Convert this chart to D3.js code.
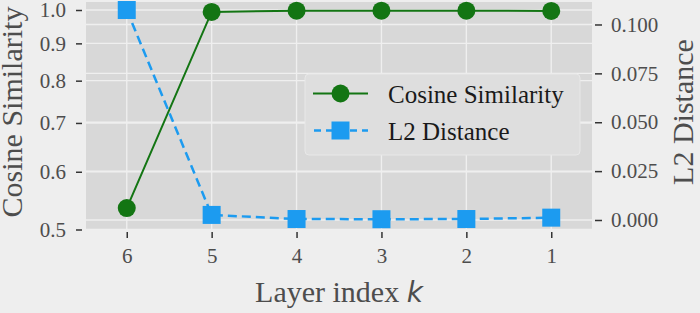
<!DOCTYPE html>
<html><head><meta charset="utf-8">
<script src="https://cdn.jsdelivr.net/npm/d3@7"></script>
<style>
html,body{margin:0;padding:0;background:#eeeeee;}
svg{display:block;}
</style></head>
<body>
<svg id="chart" width="700" height="313"></svg>
<script>
const layers = [6, 5, 4, 3, 2, 1];
const cosineSimilarity = [0.535, 0.994, 0.998, 0.998, 0.998, 0.997];
const l2Distance = [0.1074, 0.0026, 0.0005, 0.0004, 0.0005, 0.0012];
const leftTicks = [0.5, 0.6, 0.7, 0.8, 0.9, 1.0];
const rightTicks = [0, 0.025, 0.05, 0.075, 0.1];
const seriesNames = ["Cosine Similarity", "L2 Distance"];

const svg = d3.select("#chart");
const L = 86, R = 592, T = 2, B = 229.5;
const serif = "'Liberation Serif','Times New Roman',serif";
const green = "#137513", blue = "#1c9bf0";

const x = d3.scaleLinear().domain([6.48, 0.52]).range([L, R]);
const yL = d3.scaleLog().domain([0.5, 1.0256]).range([B, T]);
const yR = d3.scaleLinear().domain([-0.00486, 0.1115]).range([B, T]);

svg.append("rect").attr("x", L).attr("y", T).attr("width", R - L).attr("height", B - T).attr("fill", "#d8d8d8");

const grid = svg.append("g").attr("stroke", "#efefef").attr("stroke-width", 1.4);
grid.selectAll(".gl").data(leftTicks).join("line")
  .attr("x1", L).attr("x2", R).attr("y1", d => yL(d)).attr("y2", d => yL(d));
grid.selectAll(".gr").data(rightTicks).join("line")
  .attr("x1", L).attr("x2", R).attr("y1", d => yR(d)).attr("y2", d => yR(d));
grid.selectAll(".gx").data(layers).join("line")
  .attr("x1", d => x(d)).attr("x2", d => x(d)).attr("y1", T).attr("y2", B);

function styleAxis(g) {
  g.select(".domain").remove();
  g.selectAll(".tick line").attr("stroke", "#333").attr("stroke-width", 1.5);
  g.selectAll(".tick text").attr("fill", "#4d4d4d").style("font-family", serif).style("font-size", "21px");
}

svg.append("g").attr("transform", `translate(82,0)`)
  .call(d3.axisLeft(yL).tickValues(leftTicks).tickFormat(d3.format(".1f")).tickSize(6).tickPadding(10))
  .call(styleAxis);
svg.append("g").attr("transform", `translate(595,0)`)
  .call(d3.axisRight(yR).tickValues(rightTicks).tickFormat(d3.format(".3f")).tickSize(7).tickPadding(9))
  .call(styleAxis);
svg.append("g").attr("transform", `translate(0,232)`)
  .call(d3.axisBottom(x).tickValues(layers).tickFormat(d3.format("d")).tickSize(6).tickPadding(10))
  .call(styleAxis);

// series
const cosLine = d3.line().x((d, i) => x(layers[i])).y(d => yL(d));
svg.append("path").datum(cosineSimilarity).attr("d", cosLine)
  .attr("fill", "none").attr("stroke", green).attr("stroke-width", 2);
svg.selectAll(".cm").data(cosineSimilarity).join("circle")
  .attr("cx", (d, i) => x(layers[i])).attr("cy", d => yL(d)).attr("r", 9).attr("fill", green);

const l2Line = d3.line().x((d, i) => x(layers[i])).y(d => yR(d));
svg.append("path").datum(l2Distance).attr("d", l2Line)
  .attr("fill", "none").attr("stroke", blue).attr("stroke-width", 2.5).attr("stroke-dasharray", "9,5");
svg.selectAll(".lm").data(l2Distance).join("rect")
  .attr("x", (d, i) => x(layers[i]) - 9).attr("y", d => yR(d) - 9)
  .attr("width", 18).attr("height", 18).attr("fill", blue);

// axis labels
svg.append("text").attr("transform", "translate(22,112) rotate(-90)").attr("text-anchor", "middle")
  .style("font-family", serif).style("font-size", "30px").attr("fill", "#4d4d4d").text("Cosine Similarity");
svg.append("text").attr("transform", "translate(693,112) rotate(-90)").attr("text-anchor", "middle")
  .style("font-family", serif).style("font-size", "30px").attr("fill", "#4d4d4d").text("L2 Distance");
const xl = svg.append("text").attr("x", 339).attr("y", 302).attr("text-anchor", "middle")
  .style("font-family", serif).style("font-size", "30px").attr("fill", "#4d4d4d");
xl.append("tspan").text("Layer index ");
xl.append("tspan").style("font-family", "'DejaVu Sans',sans-serif").style("font-style", "italic").style("font-size", "28px").text("k");

// legend
const lg = svg.append("g");
lg.append("rect").attr("x", 305).attr("y", 74).attr("width", 275).attr("height", 81).attr("rx", 4)
  .attr("fill", "#dedede").attr("stroke", "#e8e8e8").attr("stroke-width", 1);
lg.append("line").attr("x1", 313).attr("x2", 368).attr("y1", 93.5).attr("y2", 93.5).attr("stroke", green).attr("stroke-width", 2);
lg.append("circle").attr("cx", 340.5).attr("cy", 93.5).attr("r", 9).attr("fill", green);
lg.append("line").attr("x1", 314).attr("x2", 368).attr("y1", 130.5).attr("y2", 130.5).attr("stroke", blue).attr("stroke-width", 2.5).attr("stroke-dasharray", "7,5");
lg.append("rect").attr("x", 331.5).attr("y", 121.5).attr("width", 18).attr("height", 18).attr("fill", blue);
lg.selectAll(".lt").data(seriesNames).join("text")
  .attr("x", 388).attr("y", (d, i) => 103 + i * 36.5)
  .style("font-family", serif).style("font-size", "25px").attr("fill", "#1a1a1a").text(d => d);
</script>
</body></html>
